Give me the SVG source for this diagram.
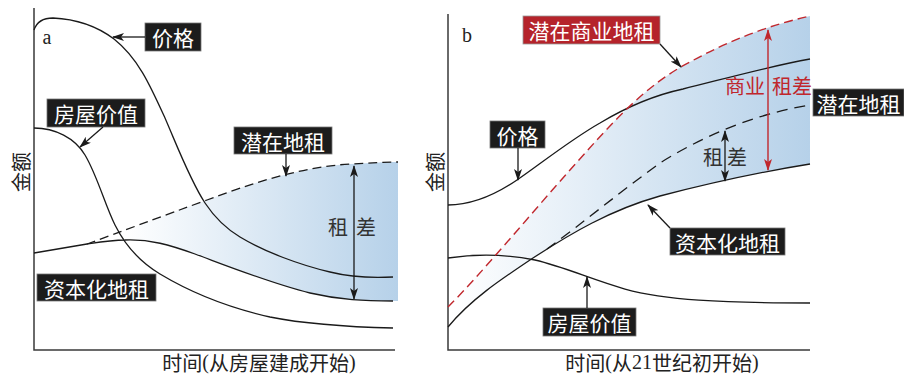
<svg xmlns="http://www.w3.org/2000/svg" width="904" height="378" viewBox="0 0 904 378">
<style>
.axis{fill:none;stroke:#3a3a3a;stroke-width:1.5}
.curve{fill:none;stroke:#1a1a1a;stroke-width:1.3}
.dash{fill:none;stroke:#1a1a1a;stroke-width:1.3;stroke-dasharray:9 5}
.rdash{fill:none;stroke:#c0272d;stroke-width:1.4;stroke-dasharray:9 5}
.box{fill:#1c1c1c;stroke:#777;stroke-width:0.8}
.rbox{fill:#b5232b;stroke:#999;stroke-width:0.8}
.lbl{font-family:"Noto Sans CJK SC","Noto Sans CJK JP",sans-serif;font-size:21px;fill:#fff;text-anchor:middle;dominant-baseline:central}
.ax{font-family:"Liberation Serif","Noto Sans CJK SC",serif;font-size:20px;fill:#222;text-anchor:middle;dominant-baseline:central}
.cj{font-family:"Noto Sans CJK SC",sans-serif}
.pl{font-family:"Liberation Serif",serif;font-size:20px;fill:#222;text-anchor:middle;dominant-baseline:central}
.gap{font-family:"Noto Sans CJK SC",sans-serif;font-size:20px;fill:#333;text-anchor:middle;dominant-baseline:central}
.conn{fill:none;stroke:#1a1a1a;stroke-width:1.3}
.rconn{fill:none;stroke:#c0272d;stroke-width:1.4}
</style>
<defs>
<marker id="ah" viewBox="0 0 12 8" refX="11" refY="4" markerWidth="12" markerHeight="8" markerUnits="userSpaceOnUse" orient="auto-start-reverse">
<path d="M0,0 L12,4 L0,8 L3,4 Z" fill="#1a1a1a"/>
</marker>
<marker id="rah" viewBox="0 0 12 8" refX="11" refY="4" markerWidth="12" markerHeight="8" markerUnits="userSpaceOnUse" orient="auto-start-reverse">
<path d="M0,0 L12,4 L0,8 L3,4 Z" fill="#c0272d"/>
</marker>
<linearGradient id="ga" gradientUnits="userSpaceOnUse" x1="125" y1="0" x2="398" y2="0">
<stop offset="0" stop-color="#ffffff"/>
<stop offset="1" stop-color="#b6d1e9"/>
</linearGradient>
<linearGradient id="gb" gradientUnits="userSpaceOnUse" x1="450" y1="0" x2="810" y2="0">
<stop offset="0" stop-color="#ffffff"/>
<stop offset="1" stop-color="#b6d1e9"/>
</linearGradient>
</defs>
<rect width="904" height="378" fill="#ffffff"/>

<!-- Panel a -->
<g id="panel-a-shading">
<path d="M87,244 C120,232 160,217 207,200 C250,184 300,167 350,164 C370,163 385,162 398,162 L398,301 L393,301 C365,301 340,300 310,293 C270,283 230,267 195,254 C170,245 150,239 125,240 C112,240 100,242 87,244 Z" fill="url(#ga)"/>
</g>
<g id="panel-a-axes">
<path class="axis" d="M34,8 L34,350 L395,350"/>
<text class="pl" x="47" y="37">a</text>
<text class="ax cj" transform="translate(20,172) rotate(-90)" x="0" y="0">金额</text>
<text class="ax" x="259" y="362"><tspan class="cj">时间</tspan>(<tspan class="cj">从房屋建成开始</tspan>)</text>
</g>
<g id="panel-a-curves">
<path class="curve" d="M34,30 C37,21 44,18 53,18 C76,19 98,27 114,39 C138,58 150,85 165,118 C178,148 190,180 205,203 C215,218 225,228 240,237 C265,252 300,265 330,272 C350,277 375,278 393,277"/>
<path class="curve" d="M34,128 C55,128 75,138 85,155 C97,175 105,205 115,225 C125,245 140,262 160,274 C190,292 230,308 270,317 C310,325 350,327 393,328"/>
<path class="curve" d="M34,253 L87,244 C100,242 112,240 125,240 C150,239 170,245 195,254 C230,267 270,283 310,293 C340,300 365,301 393,301"/>
<path class="dash" d="M87,244 C120,232 160,217 207,200 C250,184 300,167 350,164 C370,163 385,162 398,162"/>
</g>

<!-- Panel b -->
<g id="panel-b-shading">
<path d="M448,307 C480,275 530,215 570,170 C610,125 645,85 690,62 C730,40 770,25 810,16 L810,164 C760,172 710,183 660,196 C610,210 570,234 533,258 C500,280 470,300 448,327 Z" fill="url(#gb)"/>
</g>
<g id="panel-b-axes">
<path class="axis" d="M448,14 L448,350 L810,350"/>
<text class="pl" x="467" y="35">b</text>
<text class="ax cj" transform="translate(434,172) rotate(-90)" x="0" y="0">金额</text>
<text class="ax" x="662" y="362"><tspan class="cj">时间</tspan>(<tspan class="cj">从</tspan>21<tspan class="cj">世纪初开始</tspan>)</text>
</g>
<g id="panel-b-curves">
<path class="curve" d="M448,205 C470,205 495,195 517,180 C535,168 570,140 600,123 C625,108 655,95 683,89 C720,80 770,66 810,59"/>
<path class="curve" d="M448,258 C475,254 505,254 535,260 C565,267 590,279 625,289 C665,300 720,303 810,303"/>
<path class="curve" d="M448,327 C470,300 500,280 533,258 C570,234 610,210 660,196 C710,183 760,172 810,164"/>
<path class="dash" style="stroke-dasharray:11 7" d="M547,249 C580,225 620,192 660,163 C700,138 750,115 810,105"/>
<path class="rdash" d="M448,307 C480,275 530,215 570,170 C610,125 645,85 690,62 C730,40 770,25 810,16"/>
</g>

<!-- Nodes -->
<g id="a-price"><rect class="box" x="145" y="23" width="56" height="28"/><text class="lbl" x="173" y="37">价格</text></g>
<g id="a-house-value"><rect class="box" x="47" y="99" width="98" height="28"/><text class="lbl" x="96" y="113">房屋价值</text></g>
<g id="a-capitalized-rent"><rect class="box" x="37" y="274" width="119" height="27"/><text class="lbl" x="96.5" y="287.5">资本化地租</text></g>
<g id="a-potential-rent"><rect class="box" x="234" y="127" width="98" height="27"/><text class="lbl" x="283" y="140.5">潜在地租</text></g>
<g id="a-rent-gap"><text class="gap" x="338" y="226">租</text><text class="gap" x="366" y="226">差</text></g>

<g id="b-potential-commercial-rent"><rect class="rbox" x="523" y="16" width="137" height="28"/><text class="lbl" x="591.5" y="30">潜在商业地租</text></g>
<g id="b-potential-rent"><rect class="box" x="813" y="89" width="91" height="27"/><text class="lbl" x="858.5" y="102.5">潜在地租</text></g>
<g id="b-price"><rect class="box" x="490" y="121" width="55" height="27"/><text class="lbl" x="517.5" y="134.5">价格</text></g>
<g id="b-capitalized-rent"><rect class="box" x="670" y="228" width="115" height="27"/><text class="lbl" x="727.5" y="241.5">资本化地租</text></g>
<g id="b-house-value"><rect class="box" x="543" y="308" width="93" height="28"/><text class="lbl" x="589.5" y="322">房屋价值</text></g>
<g id="b-commercial-gap"><text class="gap" style="fill:#c0272d" x="745" y="85">商业</text><text class="gap" style="fill:#c0272d" x="792" y="85">租差</text></g>
<g id="b-rent-gap"><text class="gap" x="713" y="156">租</text><text class="gap" x="737" y="156">差</text></g>

<!-- Connectors -->
<g id="connectors">
<path class="conn" marker-end="url(#ah)" d="M145,37 L113,37"/>
<path class="conn" marker-end="url(#ah)" d="M103,127 L80,147"/>
<path class="conn" marker-end="url(#ah)" d="M286,154 L286,176"/>
<path class="conn" marker-start="url(#ah)" marker-end="url(#ah)" d="M354,166 L354,299"/>
<path class="conn" marker-end="url(#ah)" d="M660,44 L681,67"/>
<path class="conn" marker-end="url(#ah)" d="M518,148 L518,180"/>
<path class="conn" marker-end="url(#ah)" d="M670,228 L648,205"/>
<path class="conn" marker-end="url(#ah)" d="M587,308 L587,277"/>
<path class="conn" marker-start="url(#ah)" marker-end="url(#ah)" d="M725,131 L725,181"/>
<path class="rconn" marker-start="url(#rah)" marker-end="url(#rah)" d="M768,30 L768,170"/>
</g>
</svg>
